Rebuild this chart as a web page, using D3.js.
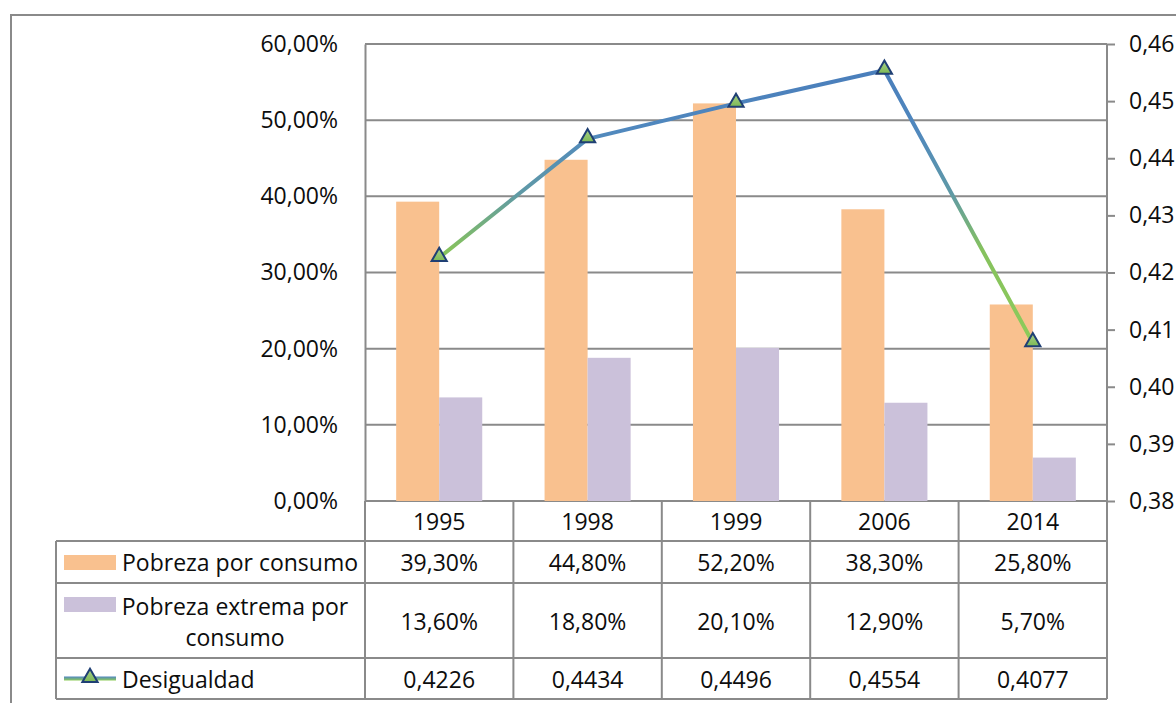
<!DOCTYPE html>
<html>
<head>
<meta charset="utf-8">
<script src="https://cdn.jsdelivr.net/npm/d3@7"></script>
<style>
  html, body { margin: 0; padding: 0; background: #fff; }
  svg { display: block; }
  text { font-family: "Open Sans", "Noto Sans", sans-serif; fill: #0d0d0d; }
</style>
</head>
<body>
<svg id="chart" width="1176" height="703"></svg>
<script>
// Años de la encuesta
const years = ["1995", "1998", "1999", "2006", "2014"];
// Pobreza por consumo (%)
const pobreza = [39.3, 44.8, 52.2, 38.3, 25.8];
// Pobreza extrema por consumo (%)
const pobrezaExtrema = [13.6, 18.8, 20.1, 12.9, 5.7];
// Desigualdad (coeficiente de Gini)
const desigualdad = [0.4226, 0.4434, 0.4496, 0.4554, 0.4077];
// Marcas de los ejes
const leftTicks = [0, 0.1, 0.2, 0.3, 0.4, 0.5, 0.6];
const rightTicks = [0.38, 0.39, 0.40, 0.41, 0.42, 0.43, 0.44, 0.45, 0.46];

const seriesNames = ["Pobreza por consumo", "Pobreza extrema por consumo", "Desigualdad"];
const barColors = ["#F9C18F", "#CBC1DA"];
const gridColor = "#8a8a8a";

const es = d3.formatLocale({ decimal: ",", thousands: ".", grouping: [3], currency: ["", "€"] });
const fmtPctAxis = es.format(".2%");
const fmtPct = v => es.format(".2f")(v) + "%";
const fmtGini = es.format(".4f");
const fmtRight = es.format(".2f");

const svg = d3.select("#chart");
const FS = 23;

// Plot area
const plot = { left: 365, right: 1107, top: 44, bottom: 501 };
const tableLeft = 56;
const rows = [501, 541, 583, 658, 699];

const x = d3.scaleBand().domain(years).range([plot.left, plot.right]).padding(0);
const bw = x.bandwidth();
const inner = d3.scaleBand().domain([0, 1]).range([bw * 0.21, bw * 0.79]).padding(0);
const yL = d3.scaleLinear().domain([0, 0.6]).range([plot.bottom, plot.top]);
const yR = d3.scaleLinear().domain([0.38, 0.46]).range([plot.bottom, plot.top]);

// Outer frame
svg.append("rect")
  .attr("x", 11).attr("y", 15).attr("width", 1300).attr("height", 800)
  .attr("fill", "none").attr("stroke", gridColor).attr("stroke-width", 2);

// Gridlines
svg.append("g").selectAll("line").data(leftTicks).join("line")
  .attr("x1", plot.left).attr("x2", plot.right)
  .attr("y1", d => yL(d)).attr("y2", d => yL(d))
  .attr("stroke", gridColor).attr("stroke-width", 2);

// Left axis labels
const leftAxis = d3.axisLeft(yL).tickValues(leftTicks).tickFormat(fmtPctAxis).tickSize(0).tickPadding(27);
const gL = svg.append("g").attr("transform", `translate(${plot.left},0)`).call(leftAxis);
gL.select(".domain").attr("stroke", gridColor).attr("stroke-width", 2);
gL.selectAll("text").style("font-size", FS + "px").style("font-family", '"Open Sans", sans-serif').attr("fill", "#0d0d0d");

// Right axis
const rightAxis = d3.axisRight(yR).tickValues(rightTicks).tickFormat(fmtRight).tickSize(8).tickPadding(14);
const gR = svg.append("g").attr("transform", `translate(${plot.right},0)`).call(rightAxis);
gR.select(".domain").attr("stroke", gridColor).attr("stroke-width", 2).attr("d", `M0,${plot.top}V${plot.bottom}`);
gR.selectAll("line").attr("stroke", gridColor).attr("stroke-width", 2);
gR.selectAll("text").style("font-size", FS + "px").style("font-family", '"Open Sans", sans-serif').attr("fill", "#0d0d0d");

// Bars
const barData = [pobreza, pobrezaExtrema];
barData.forEach((vals, s) => {
  svg.append("g").selectAll("rect").data(vals).join("rect")
    .attr("x", (d, i) => x(years[i]) + inner(s))
    .attr("width", inner.bandwidth())
    .attr("y", d => yL(d / 100))
    .attr("height", d => yL(0) - yL(d / 100))
    .attr("fill", barColors[s]);
});

// Gradient for the inequality line (blue at the top, green at the bottom)
const defs = svg.append("defs");
const gMin = d3.min(desigualdad), gMax = d3.max(desigualdad);
const lg = defs.append("linearGradient").attr("id", "lineGrad")
  .attr("gradientUnits", "userSpaceOnUse")
  .attr("x1", 0).attr("x2", 0).attr("y1", yR(gMax)).attr("y2", yR(gMin));
lg.append("stop").attr("offset", "0%").attr("stop-color", "#4A7EBB");
lg.append("stop").attr("offset", "22%").attr("stop-color", "#5088BE");
lg.append("stop").attr("offset", "45%").attr("stop-color", "#5F99A6");
lg.append("stop").attr("offset", "66%").attr("stop-color", "#86C25E");
lg.append("stop").attr("offset", "100%").attr("stop-color", "#8DCB5A");

const mg = defs.append("linearGradient").attr("id", "markGrad")
  .attr("x1", 0).attr("x2", 0).attr("y1", 1).attr("y2", 0);
mg.append("stop").attr("offset", "0%").attr("stop-color", "#7DBA55");
mg.append("stop").attr("offset", "100%").attr("stop-color", "#A9CF8A");

const line = d3.line()
  .x((d, i) => x(years[i]) + bw / 2)
  .y(d => yR(d));
svg.append("path").datum(desigualdad)
  .attr("d", line)
  .attr("fill", "none")
  .attr("stroke", "url(#lineGrad)")
  .attr("stroke-width", 4)
  .attr("stroke-linejoin", "round");

const tri = d3.symbol().type(d3.symbolTriangle).size(100);
svg.append("g").selectAll("path").data(desigualdad).join("path")
  .attr("d", tri)
  .attr("transform", (d, i) => `translate(${x(years[i]) + bw / 2},${yR(d) - 1})`)
  .attr("fill", "url(#markGrad)")
  .attr("stroke", "#1F3F74").attr("stroke-width", 2).attr("stroke-linejoin", "miter");

// Data table
const tg = svg.append("g");
const hLines = [
  { y: rows[1], x1: tableLeft }, { y: rows[2], x1: tableLeft },
  { y: rows[3], x1: tableLeft }, { y: rows[4], x1: tableLeft }
];
tg.selectAll("line.h").data(hLines).join("line")
  .attr("x1", d => d.x1).attr("x2", plot.right)
  .attr("y1", d => d.y).attr("y2", d => d.y)
  .attr("stroke", gridColor).attr("stroke-width", 2);

const vXs = years.map(y => x(y)).concat([plot.right]);
tg.selectAll("line.v").data(vXs).join("line")
  .attr("x1", d => d).attr("x2", d => d)
  .attr("y1", rows[0]).attr("y2", rows[4])
  .attr("stroke", gridColor).attr("stroke-width", 2);
tg.append("line")
  .attr("x1", tableLeft).attr("x2", tableLeft)
  .attr("y1", rows[1]).attr("y2", rows[4])
  .attr("stroke", gridColor).attr("stroke-width", 2);

// Header row (years)
tg.selectAll("text.year").data(years).join("text")
  .attr("x", d => x(d) + bw / 2).attr("y", (rows[0] + rows[1]) / 2)
  .attr("text-anchor", "middle").attr("dominant-baseline", "central")
  .style("font-size", FS + "px").text(d => d);

const tableRows = [
  { vals: pobreza, fmt: fmtPct, y0: rows[1], y1: rows[2] },
  { vals: pobrezaExtrema, fmt: fmtPct, y0: rows[2], y1: rows[3] },
  { vals: desigualdad, fmt: fmtGini, y0: rows[3], y1: rows[4] }
];
tableRows.forEach(r => {
  tg.append("g").selectAll("text").data(r.vals).join("text")
    .attr("x", (d, i) => x(years[i]) + bw / 2)
    .attr("y", (r.y0 + r.y1) / 2)
    .attr("text-anchor", "middle").attr("dominant-baseline", "central")
    .style("font-size", FS + "px").text(d => r.fmt(d));
});

// Legend keys in the table
const keyX = 64, keyW = 52, txtX = 122;
const r1c = (rows[1] + rows[2]) / 2;
tg.append("rect").attr("x", keyX).attr("y", r1c - 7).attr("width", keyW).attr("height", 15).attr("fill", barColors[0]);
tg.append("text").attr("x", txtX).attr("y", r1c).attr("dominant-baseline", "central")
  .style("font-size", FS + "px").text(seriesNames[0]);

const r2c = (rows[2] + rows[3]) / 2;
tg.append("rect").attr("x", keyX).attr("y", 597).attr("width", keyW).attr("height", 15).attr("fill", barColors[1]);
const t2 = tg.append("text").attr("text-anchor", "middle").style("font-size", FS + "px");
t2.append("tspan").attr("x", 235).attr("y", r2c - 15).attr("dominant-baseline", "central").text("Pobreza extrema por");
t2.append("tspan").attr("x", 235).attr("y", r2c + 16).attr("dominant-baseline", "central").text("consumo");

const r3c = (rows[3] + rows[4]) / 2;
const kg = defs.append("linearGradient").attr("id", "keyGrad").attr("x1", 0).attr("x2", 0).attr("y1", 0).attr("y2", 1);
kg.append("stop").attr("offset", "0%").attr("stop-color", "#4F86C0");
kg.append("stop").attr("offset", "100%").attr("stop-color", "#8DCB5A");
tg.append("rect").attr("x", keyX).attr("y", r3c - 2).attr("width", keyW).attr("height", 4).attr("fill", "url(#keyGrad)");
tg.append("path").attr("d", tri).attr("transform", `translate(${keyX + keyW / 2},${r3c - 1})`)
  .attr("fill", "url(#markGrad)").attr("stroke", "#1F3F74").attr("stroke-width", 2);
tg.append("text").attr("x", txtX).attr("y", r3c).attr("dominant-baseline", "central")
  .style("font-size", FS + "px").text(seriesNames[2]);
</script>
</body>
</html>
